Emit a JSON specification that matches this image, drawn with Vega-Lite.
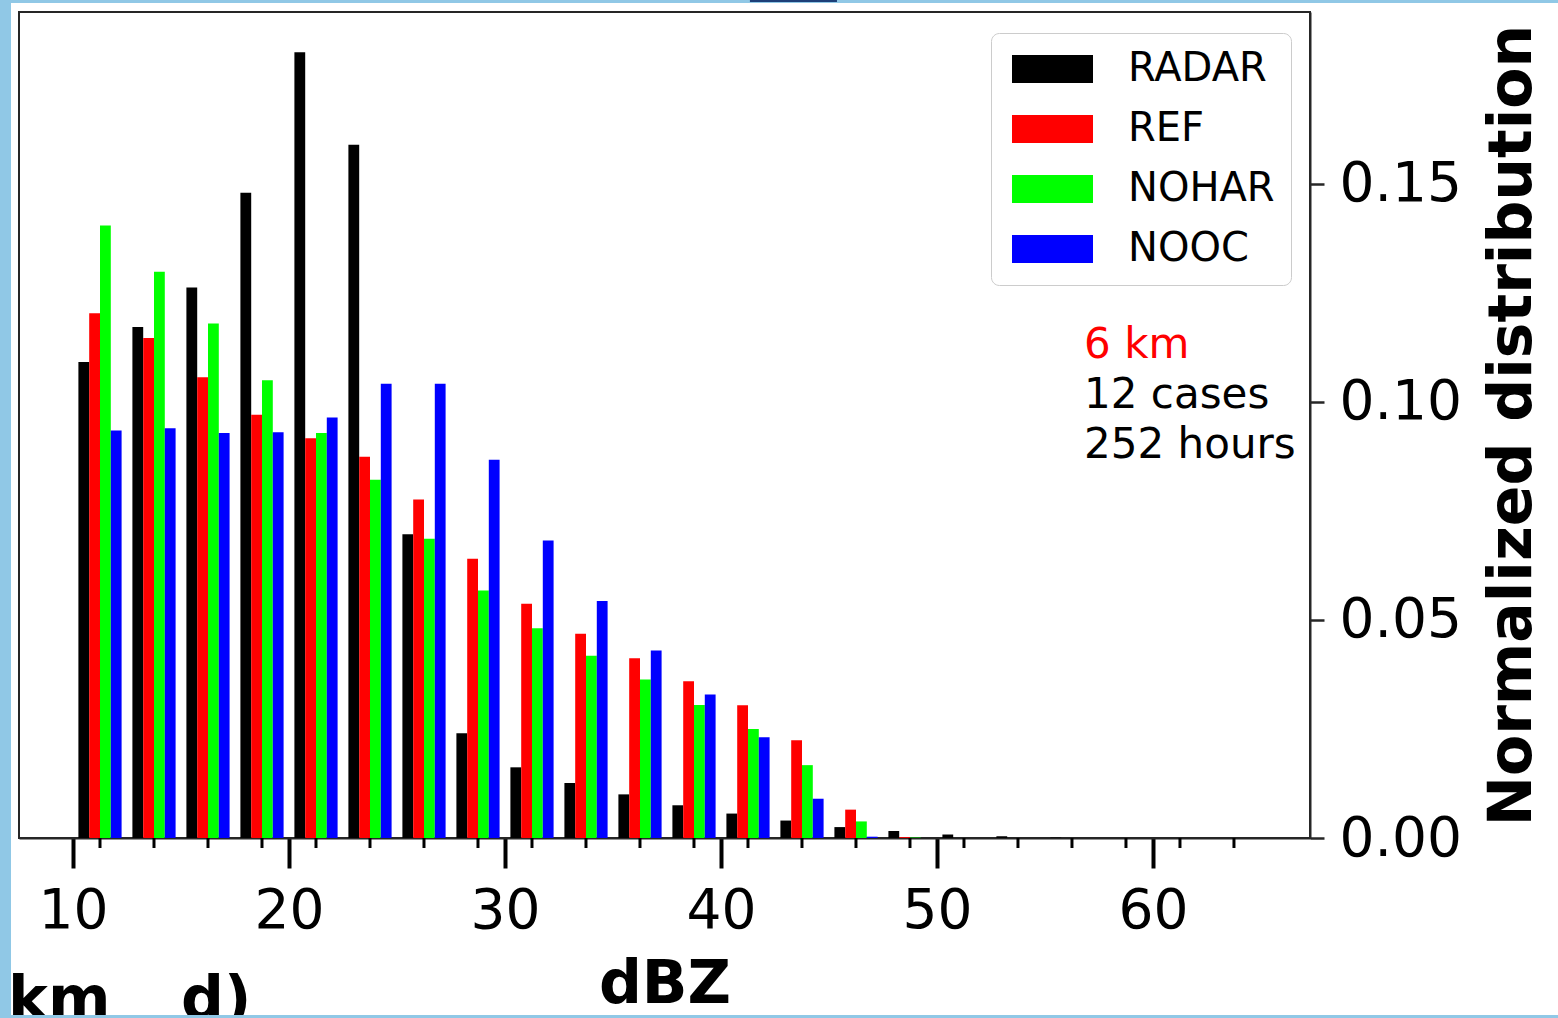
{
  "$schema": "https://vega.github.io/schema/vega-lite/v6.json",
  "width": 1291,
  "height": 826,
  "autosize": {"type": "none"},
  "padding": {"left": 19, "top": 12, "right": 248, "bottom": 180},
  "background": "white",
  "config": {
    "font": "DejaVu Sans",
    "view": {"stroke": "#262626", "strokeWidth": 2}
  },
  "datasets": {
    "hist": [
      {"bin": 11.25, "series": "RADAR", "value": 0.1091},
      {"bin": 13.75, "series": "RADAR", "value": 0.1171},
      {"bin": 16.25, "series": "RADAR", "value": 0.1262},
      {"bin": 18.75, "series": "RADAR", "value": 0.1479},
      {"bin": 21.25, "series": "RADAR", "value": 0.1801},
      {"bin": 23.75, "series": "RADAR", "value": 0.1589},
      {"bin": 26.25, "series": "RADAR", "value": 0.0696},
      {"bin": 28.75, "series": "RADAR", "value": 0.0240},
      {"bin": 31.25, "series": "RADAR", "value": 0.0162},
      {"bin": 33.75, "series": "RADAR", "value": 0.0126},
      {"bin": 36.25, "series": "RADAR", "value": 0.0100},
      {"bin": 38.75, "series": "RADAR", "value": 0.0075},
      {"bin": 41.25, "series": "RADAR", "value": 0.0056},
      {"bin": 43.75, "series": "RADAR", "value": 0.0040},
      {"bin": 46.25, "series": "RADAR", "value": 0.0025},
      {"bin": 48.75, "series": "RADAR", "value": 0.0016},
      {"bin": 51.25, "series": "RADAR", "value": 0.0008},
      {"bin": 53.75, "series": "RADAR", "value": 0.0004},
      {"bin": 56.25, "series": "RADAR", "value": 0.0001},
      {"bin": 11.25, "series": "REF", "value": 0.1203},
      {"bin": 13.75, "series": "REF", "value": 0.1146},
      {"bin": 16.25, "series": "REF", "value": 0.1056},
      {"bin": 18.75, "series": "REF", "value": 0.0970},
      {"bin": 21.25, "series": "REF", "value": 0.0916},
      {"bin": 23.75, "series": "REF", "value": 0.0874},
      {"bin": 26.25, "series": "REF", "value": 0.0776},
      {"bin": 28.75, "series": "REF", "value": 0.0640},
      {"bin": 31.25, "series": "REF", "value": 0.0537},
      {"bin": 33.75, "series": "REF", "value": 0.0468},
      {"bin": 36.25, "series": "REF", "value": 0.0412},
      {"bin": 38.75, "series": "REF", "value": 0.0359},
      {"bin": 41.25, "series": "REF", "value": 0.0304},
      {"bin": 43.75, "series": "REF", "value": 0.0224},
      {"bin": 46.25, "series": "REF", "value": 0.0065},
      {"bin": 48.75, "series": "REF", "value": 0.0002},
      {"bin": 11.25, "series": "NOHAR", "value": 0.1404},
      {"bin": 13.75, "series": "NOHAR", "value": 0.1298},
      {"bin": 16.25, "series": "NOHAR", "value": 0.1179},
      {"bin": 18.75, "series": "NOHAR", "value": 0.1049},
      {"bin": 21.25, "series": "NOHAR", "value": 0.0928},
      {"bin": 23.75, "series": "NOHAR", "value": 0.0821},
      {"bin": 26.25, "series": "NOHAR", "value": 0.0686},
      {"bin": 28.75, "series": "NOHAR", "value": 0.0567},
      {"bin": 31.25, "series": "NOHAR", "value": 0.0481},
      {"bin": 33.75, "series": "NOHAR", "value": 0.0418},
      {"bin": 36.25, "series": "NOHAR", "value": 0.0363},
      {"bin": 38.75, "series": "NOHAR", "value": 0.0305},
      {"bin": 41.25, "series": "NOHAR", "value": 0.0250},
      {"bin": 43.75, "series": "NOHAR", "value": 0.0167},
      {"bin": 46.25, "series": "NOHAR", "value": 0.0038},
      {"bin": 48.75, "series": "NOHAR", "value": 0.0001},
      {"bin": 11.25, "series": "NOOC", "value": 0.0934},
      {"bin": 13.75, "series": "NOOC", "value": 0.0939},
      {"bin": 16.25, "series": "NOOC", "value": 0.0928},
      {"bin": 18.75, "series": "NOOC", "value": 0.0930},
      {"bin": 21.25, "series": "NOOC", "value": 0.0964},
      {"bin": 23.75, "series": "NOOC", "value": 0.1041},
      {"bin": 26.25, "series": "NOOC", "value": 0.1041},
      {"bin": 28.75, "series": "NOOC", "value": 0.0867},
      {"bin": 31.25, "series": "NOOC", "value": 0.0682},
      {"bin": 33.75, "series": "NOOC", "value": 0.0543},
      {"bin": 36.25, "series": "NOOC", "value": 0.0430},
      {"bin": 38.75, "series": "NOOC", "value": 0.0329},
      {"bin": 41.25, "series": "NOOC", "value": 0.0231},
      {"bin": 43.75, "series": "NOOC", "value": 0.0090},
      {"bin": 46.25, "series": "NOOC", "value": 0.0003}
    ],
    "bins": [
      {"center": 11.25}, {"center": 13.75}, {"center": 16.25}, {"center": 18.75},
      {"center": 21.25}, {"center": 23.75}, {"center": 26.25}, {"center": 28.75},
      {"center": 31.25}, {"center": 33.75}, {"center": 36.25}, {"center": 38.75},
      {"center": 41.25}, {"center": 43.75}, {"center": 46.25}, {"center": 48.75},
      {"center": 51.25}, {"center": 53.75}, {"center": 56.25}, {"center": 58.75},
      {"center": 61.25}, {"center": 63.75}
    ],
    "one": [{}]
  },
  "resolve": {"scale": {"x": "independent"}},
  "layer": [
    {
      "data": {"name": "hist"},
      "mark": {"type": "bar", "strokeWidth": 0},
      "encoding": {
        "x": {
          "field": "bin", "type": "ordinal",
          "scale": {
            "domain": [8.75, 11.25, 13.75, 16.25, 18.75, 21.25, 23.75, 26.25, 28.75, 31.25, 33.75, 36.25, 38.75, 41.25, 43.75, 46.25, 48.75, 51.25, 53.75, 56.25, 58.75, 61.25, 63.75, 66.25],
            "range": [0, 1296],
            "paddingInner": 0.2,
            "paddingOuter": 0.1
          },
          "axis": null
        },
        "xOffset": {
          "field": "series", "type": "nominal",
          "scale": {"domain": ["RADAR", "REF", "NOHAR", "NOOC"], "paddingInner": 0, "paddingOuter": 0}
        },
        "y": {
          "field": "value", "type": "quantitative",
          "scale": {"domain": [0, 0.18932], "nice": false, "zero": false},
          "axis": {
            "orient": "right",
            "values": [0, 0.05, 0.1, 0.15],
            "format": ".2f",
            "grid": false,
            "domain": true,
            "domainColor": "#262626",
            "domainWidth": 2,
            "ticks": true,
            "tickSize": 14,
            "tickWidth": 2.5,
            "tickColor": "#262626",
            "labelFontSize": 55,
            "labelColor": "black",
            "labelPadding": 15,
            "labelBaseline": "middle",
            "title": "Normalized distribution",
            "titleFontSize": 60,
            "titleFontWeight": "bold",
            "titleColor": "black",
            "titleAngle": 270,
            "titleAlign": "center",
            "titleBaseline": "alphabetic",
            "titleX": 220,
            "titleY": 413
          }
        },
        "color": {
          "field": "series", "type": "nominal",
          "scale": {"domain": ["RADAR", "REF", "NOHAR", "NOOC"], "range": ["#000000", "#ff0000", "#00ff00", "#0000ff"]},
          "legend": {
            "orient": "none",
            "legendX": 972,
            "legendY": 21,
            "title": null,
            "symbolType": "M-1,-0.93H4.4V0.93H-1Z",
            "symbolSize": 900,
            "symbolStrokeWidth": 0,
            "symbolOpacity": 1,
            "labelFontSize": 40,
            "labelColor": "black",
            "labelOffset": 81,
            "rowPadding": 20,
            "padding": 16,
            "fillColor": "white",
            "strokeColor": "#cccccc",
            "cornerRadius": 8
          }
        }
      }
    },
    {
      "data": {"name": "bins"},
      "mark": {"type": "rule", "color": "black", "strokeWidth": 3},
      "encoding": {
        "x": {
          "field": "center", "type": "quantitative",
          "scale": {"domain": [7.5, 67.27], "nice": false, "zero": false},
          "axis": {
            "values": [10, 20, 30, 40, 50, 60],
            "grid": false,
            "domainColor": "#262626",
            "domainWidth": 2,
            "tickSize": 30,
            "tickWidth": 4,
            "tickColor": "black",
            "labelFontSize": 55,
            "labelColor": "black",
            "labelPadding": 16,
            "title": "dBZ",
            "titleFontSize": 60,
            "titleFontWeight": "bold",
            "titleColor": "black",
            "titleBaseline": "alphabetic",
            "titleY": 164
          }
        },
        "y": {"datum": 0, "type": "quantitative", "scale": {"domain": [0, 0.18932], "nice": false, "zero": false}},
        "y2": {"datum": -0.00229}
      }
    },
    {
      "data": {"name": "one"},
      "mark": {"type": "text", "text": "6 km", "color": "#ff0000", "fontSize": 42, "align": "left", "baseline": "alphabetic"},
      "encoding": {
        "x": {"datum": 56.81, "type": "quantitative", "scale": {"domain": [7.5, 67.27], "nice": false, "zero": false}, "axis": null},
        "y": {"datum": 0.110, "type": "quantitative", "scale": {"domain": [0, 0.18932], "nice": false, "zero": false}}
      }
    },
    {
      "data": {"name": "one"},
      "mark": {"type": "text", "text": ["12 cases", "252 hours"], "lineHeight": 50, "color": "black", "fontSize": 42, "align": "left", "baseline": "alphabetic"},
      "encoding": {
        "x": {"datum": 56.81, "type": "quantitative", "scale": {"domain": [7.5, 67.27], "nice": false, "zero": false}, "axis": null},
        "y": {"datum": 0.0986, "type": "quantitative", "scale": {"domain": [0, 0.18932], "nice": false, "zero": false}}
      }
    },
    {
      "data": {"name": "one"},
      "mark": {"type": "text", "text": "km", "color": "black", "fontSize": 60, "fontWeight": "bold", "align": "left", "baseline": "alphabetic"},
      "encoding": {
        "x": {"datum": 6.99, "type": "quantitative", "scale": {"domain": [7.5, 67.27], "nice": false, "zero": false}, "axis": null},
        "y": {"datum": -0.04149, "type": "quantitative", "scale": {"domain": [0, 0.18932], "nice": false, "zero": false}}
      }
    },
    {
      "data": {"name": "one"},
      "mark": {"type": "text", "text": "d)", "color": "black", "fontSize": 60, "fontWeight": "bold", "align": "left", "baseline": "alphabetic"},
      "encoding": {
        "x": {"datum": 15.0, "type": "quantitative", "scale": {"domain": [7.5, 67.27], "nice": false, "zero": false}, "axis": null},
        "y": {"datum": -0.04149, "type": "quantitative", "scale": {"domain": [0, 0.18932], "nice": false, "zero": false}}
      }
    },
    {
      "data": {"name": "one"},
      "mark": {"type": "rect", "color": "#90c8e6"},
      "encoding": {
        "x": {"datum": 6.5, "type": "quantitative", "scale": {"domain": [7.5, 67.27], "nice": false, "zero": false}, "axis": null},
        "x2": {"datum": 7.13},
        "y": {"datum": -0.05, "type": "quantitative", "scale": {"domain": [0, 0.18932], "nice": false, "zero": false}},
        "y2": {"datum": 0.2}
      }
    },
    {
      "data": {"name": "one"},
      "mark": {"type": "rect", "color": "#90c8e6"},
      "encoding": {
        "x": {"datum": 6.5, "type": "quantitative", "scale": {"domain": [7.5, 67.27], "nice": false, "zero": false}, "axis": null},
        "x2": {"datum": 80},
        "y": {"datum": 0.19138, "type": "quantitative", "scale": {"domain": [0, 0.18932], "nice": false, "zero": false}},
        "y2": {"datum": 0.2}
      }
    },
    {
      "data": {"name": "one"},
      "mark": {"type": "rect", "color": "#90c8e6"},
      "encoding": {
        "x": {"datum": 6.5, "type": "quantitative", "scale": {"domain": [7.5, 67.27], "nice": false, "zero": false}, "axis": null},
        "x2": {"datum": 80},
        "y": {"datum": -0.05, "type": "quantitative", "scale": {"domain": [0, 0.18932], "nice": false, "zero": false}},
        "y2": {"datum": -0.04057}
      }
    },
    {
      "data": {"name": "one"},
      "mark": {"type": "rect", "color": "#1d3f78"},
      "encoding": {
        "x": {"datum": 41.34, "type": "quantitative", "scale": {"domain": [7.5, 67.27], "nice": false, "zero": false}, "axis": null},
        "x2": {"datum": 45.37},
        "y": {"datum": 0.19161, "type": "quantitative", "scale": {"domain": [0, 0.18932], "nice": false, "zero": false}},
        "y2": {"datum": 0.2}
      }
    }
  ]
}
